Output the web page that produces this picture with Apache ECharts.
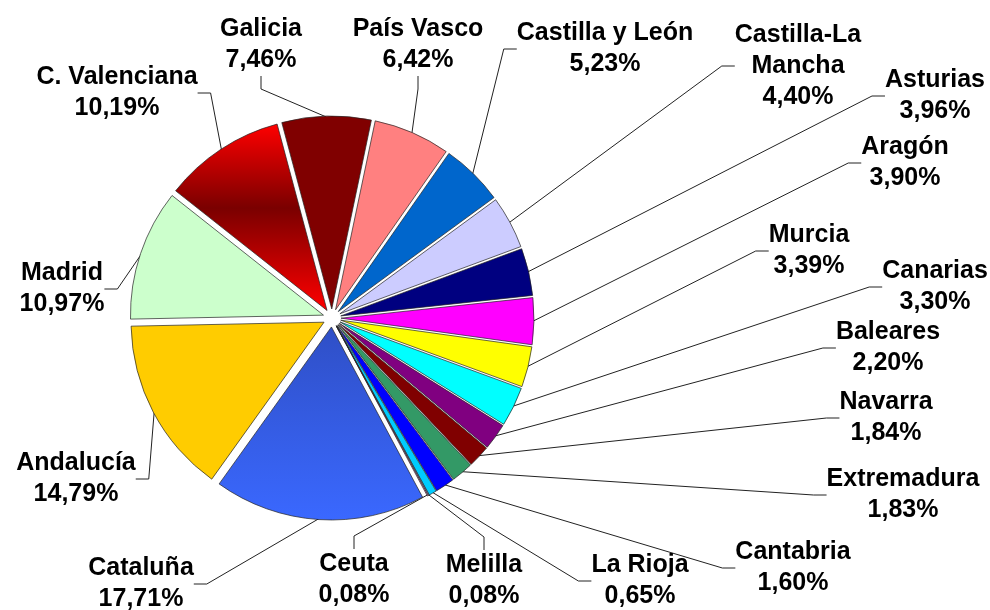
<!DOCTYPE html>
<html>
<head>
<meta charset="utf-8">
<title>Reparto por comunidades</title>
<script src="https://cdn.jsdelivr.net/npm/echarts@6/dist/echarts.min.js"></script>
<style>
  html, body { margin: 0; padding: 0; background: #fff; }
  #chart { width: 990px; height: 610px; }
</style>
</head>
<body>
<div id="chart"></div>
<script>
// comunidades en sentido horario, empezando por Galicia
const regions = [
  'Galicia', 'País Vasco', 'Castilla y León', 'Castilla-La Mancha', 'Asturias',
  'Aragón', 'Murcia', 'Canarias', 'Baleares', 'Navarra', 'Extremadura',
  'Cantabria', 'La Rioja', 'Melilla', 'Ceuta', 'Cataluña', 'Andalucía',
  'Madrid', 'C. Valenciana'
]
const shares = [
  7.46, 6.42, 5.23, 4.40, 3.96,
  3.90, 3.39, 3.30, 2.20, 1.84, 1.83,
  1.60, 0.65, 0.08, 0.08, 17.71, 14.79,
  10.97, 10.19
]
const sliceColors = [
  '#800000', '#ff8080', '#0066cc', '#ccccff', '#000080',
  '#ff00ff', '#ffff00', '#00ffff', '#800080', '#800000', '#339966',
  '#0000ff', '#00ccff', '#99ccff', '#ff99cc', '#3366ff', '#ffcc00',
  '#ccffcc', '#ff0000'
]

// centro del bloque de texto de cada etiqueta
const labelPos = [
  [261, 45], [418, 45], [605, 49], [798, 66], [935, 96],
  [905, 163], [809, 251], [935, 287], [888, 348], [886, 418], [903, 495],
  [793, 568], [640, 581], [484, 581], [354, 580], [141, 584], [76, 479],
  [62, 289], [117, 93]
]

const chart = echarts.init(document.getElementById('chart'))

// degradados como en el original
const gradients = {
  'Cataluña': new echarts.graphic.LinearGradient(0, 0, 0, 1, [
    { offset: 0, color: '#2f4fc6' },
    { offset: 1, color: '#3a68ff' }
  ]),
  'C. Valenciana': new echarts.graphic.LinearGradient(0, 0, 0, 1, [
    { offset: 0, color: '#ff0000' },
    { offset: 0.45, color: '#7a0000' },
    { offset: 1, color: '#ff0000' }
  ])
}

// sectores separados (todos "seleccionados")
const pieData = regions.map((name, i) => ({
  name: name,
  value: shares[i],
  selected: true,
  itemStyle: { color: gradients[name] || sliceColors[i] }
}))

// misma tarta, invisible, solo para las etiquetas y sus líneas
const labelData = regions.map((name, i) => ({ name: name, value: shares[i] }))

const option = {
  backgroundColor: '#fff',
  animation: false,
  series: [
    {
      type: 'pie',
      center: [332, 318],
      radius: 193,
      startAngle: 105,
      clockwise: true,
      selectedMode: 'multiple',
      selectedOffset: 9,
      silent: true,
      label: { show: false },
      labelLine: { show: false },
      itemStyle: {
        borderColor: '#222',
        borderWidth: 0.7
      },
      data: pieData
    },
    {
      type: 'pie',
      center: [332, 318],
      radius: 201,
      startAngle: 105,
      clockwise: true,
      silent: true,
      avoidLabelOverlap: false,
      itemStyle: { color: 'rgba(0,0,0,0)', borderWidth: 0 },
      label: {
        show: true,
        position: 'outside',
        color: '#000',
        fontFamily: 'Liberation Sans, Arial, sans-serif',
        fontWeight: 'bold',
        fontSize: 25,
        lineHeight: 31,
        align: 'center',
        formatter: (p) => {
          const name = p.name.replace('-La ', '-La\n')
          return name + '\n' + p.value.toFixed(2).replace('.', ',') + '%'
        }
      },
      labelLine: {
        show: true,
        length: 10,
        length2: 13,
        lineStyle: { color: '#222', width: 1 }
      },
      labelLayout: (params) => {
        const p = labelPos[params.dataIndex]
        return { x: p[0], y: p[1], align: 'center', verticalAlign: 'middle' }
      },
      data: labelData
    }
  ]
}

chart.setOption(option)
</script>
</body>
</html>
